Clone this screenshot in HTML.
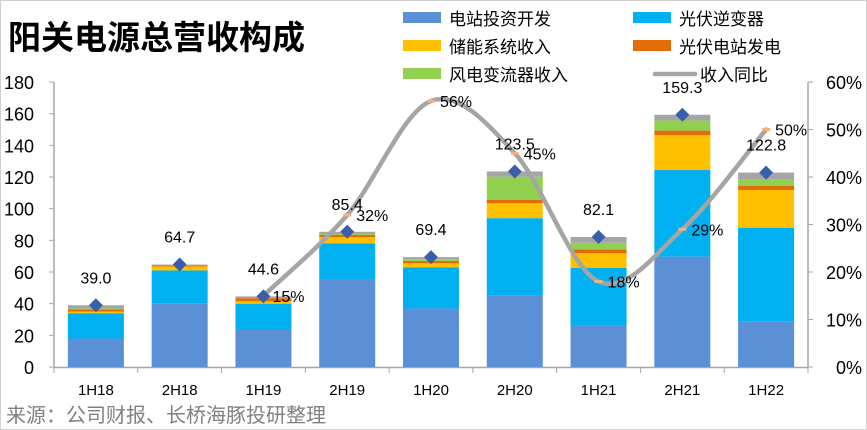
<!DOCTYPE html>
<html><head><meta charset="utf-8"><style>
body{margin:0;background:#fff;}
#wrap{position:relative;width:867px;height:430px;overflow:hidden;font-family:"Liberation Sans","Noto Sans CJK SC",sans-serif;}
svg text{font-family:"Liberation Sans","Noto Sans CJK SC",sans-serif;}
</style></head><body>
<div id="wrap">
<svg id="chart" width="867" height="430" xmlns="http://www.w3.org/2000/svg">
<rect x="0.5" y="0.5" width="866" height="429" fill="#fff" stroke="#d0d0d0"/>
<text x="8" y="49" font-size="33" font-weight="bold" fill="#000">阳关电源总营收构成</text>
<text x="6" y="422" font-size="20" fill="#808080">来源：公司财报、长桥海豚投研整理</text>
<g id="legend"></g>
<g id="axes"></g><g id="bars"></g><g id="line"></g><g id="labels"></g>
</svg>
</div>
<script>
const categories=["1H18","2H18","1H19","2H19","1H20","2H20","1H21","2H21","1H22"];
const stationDev=[18,40,24,55,37,45,26.5,69.7,28.6];
const pvInverter=[16,21,16,23,26,49,36.2,54.7,59.4];
const storage=[1,2.5,1.5,4,2.5,9.4,9.1,22.1,23.8];
const pvStation=[1.5,0.7,2,1.5,1.5,2.1,2.5,2.8,2.5];
const windConv=[0.5,0,0,0.5,1,14.7,4.2,6.4,4.4];
const totals=[39.0,64.7,44.6,85.4,69.4,123.5,82.1,159.3,122.8];
const growth=[null,null,15,32,56,45,18,29,50];
const leftTicks=[0,20,40,60,80,100,120,140,160,180];
const rightTicks=[0,10,20,30,40,50,60];
const seriesNames=["电站投资开发","光伏逆变器","储能系统收入","光伏电站发电","风电变流器收入"];
const colors=["#5B8FD6","#00B0F0","#FFC000","#E36C09","#92D050","#A5A5A5"];

const NS="http://www.w3.org/2000/svg";
const x0=54,x1=808,y0=367,yTop=82;
const step=(x1-x0)/categories.length, bw=56;
const yL=v=>y0-(v/180)*(y0-yTop);
const yR=p=>y0-(p/60)*(y0-yTop);
const xc=i=>x0+step*(i+0.5);
function mk(tag,attrs,parent,txt){const e=document.createElementNS(NS,tag);for(const k in attrs)e.setAttribute(k,attrs[k]);if(txt!==undefined)e.textContent=txt;document.getElementById(parent).appendChild(e);return e;}

let e;
e=mk("line",{x1:x0,y1:yTop,x2:x0,y2:y0,stroke:"#a6a6a6","stroke-width":1.5},"axes");

e=mk("line",{x1:x1,y1:yTop,x2:x1,y2:y0,stroke:"#a6a6a6","stroke-width":1.5},"axes");

e=mk("line",{x1:x0,y1:y0+0.5,x2:x1,y2:y0+0.5,stroke:"#a6a6a6","stroke-width":1.5},"axes");

leftTicks.forEach(t=>{
  e=mk("line",{x1:x0-5,y1:yL(t),x2:x0,y2:yL(t),stroke:"#a6a6a6"},"axes");
  
  e=mk("text",{x:34,y:yL(t)+7,"font-size":18,"text-anchor":"end",fill:"#000"},"axes",String(t));
  
});
rightTicks.forEach(t=>{
  e=mk("line",{x1:x1,y1:yR(t),x2:x1+5,y2:yR(t),stroke:"#a6a6a6"},"axes");
  
  e=mk("text",{x:862,y:yR(t)+7,"font-size":18,"text-anchor":"end",fill:"#000"},"axes",t+"%");
  
});
for(let i=0;i<=categories.length;i++){
  e=mk("line",{x1:x0+step*i,y1:y0,x2:x0+step*i,y2:y0+6,stroke:"#a6a6a6"},"axes");
  
}
categories.forEach((c,i)=>{
  e=mk("text",{x:xc(i),y:395,"font-size":15,"text-anchor":"middle",fill:"#000"},"axes",c);
  
});

const series=[stationDev,pvInverter,storage,pvStation,windConv];
categories.forEach((c,i)=>{
  let acc=0;
  series.forEach((s,k)=>{
    const v=s[i]; if(v<=0){return;}
    e=mk("rect",{x:xc(i)-bw/2,y:yL(acc+v),width:bw,height:yL(acc)-yL(acc+v),fill:colors[k]},"bars");
    
    acc+=v;
  });
  if(totals[i]>acc){
    e=mk("rect",{x:xc(i)-bw/2,y:yL(totals[i]),width:bw,height:yL(acc)-yL(totals[i]),fill:colors[5]},"bars");
    
  }
  const ty=yL(totals[i]);
  e=mk("path",{d:`M${xc(i)} ${ty-7}L${xc(i)+7} ${ty}L${xc(i)} ${ty+7}L${xc(i)-7} ${ty}Z`,fill:"#3A5FA8"},"labels");
  
  e=mk("text",{x:xc(i),y:ty-22,"font-size":16,"text-anchor":"middle",fill:"#000"},"labels",totals[i].toFixed(1));
  
});

const pts=[];growth.forEach((g,i)=>{if(g!==null)pts.push([xc(i),yR(g)]);});
let d=`M${pts[0][0]} ${pts[0][1]}`;
for(let i=0;i<pts.length-1;i++){
  const p0=pts[Math.max(0,i-1)],p1=pts[i],p2=pts[i+1],p3=pts[Math.min(pts.length-1,i+2)];
  const c1=[p1[0]+(p2[0]-p0[0])/6,p1[1]+(p2[1]-p0[1])/6];
  const c2=[p2[0]-(p3[0]-p1[0])/6,p2[1]-(p3[1]-p1[1])/6];
  d+=`C${c1[0]} ${c1[1]} ${c2[0]} ${c2[1]} ${p2[0]} ${p2[1]}`;
}
e=mk("path",{d:d,fill:"none",stroke:"#A5A5A5","stroke-width":4.5,"stroke-linecap":"round"},"line");

growth.forEach((g,i)=>{
  if(g===null)return;
  e=mk("rect",{x:xc(i)-4,y:yR(g)-1.5,width:8,height:3,fill:"#F4B183"},"line");
  
  e=mk("text",{x:xc(i)+9,y:yR(g)+6,"font-size":16,fill:"#000"},"labels",g+"%");
  
});

const lpos=[[403,18],[633,18],[403,46],[633,46],[403,74]];
seriesNames.forEach((n,k)=>{
  e=mk("rect",{x:lpos[k][0],y:lpos[k][1]-6,width:38,height:11,fill:colors[k]},"legend");
  
  e=mk("text",{x:lpos[k][0]+46,y:lpos[k][1]+7,"font-size":17,fill:"#000"},"legend",n);
  
});
e=mk("line",{x1:655,y1:74,x2:695,y2:74,stroke:"#A5A5A5","stroke-width":4.5,"stroke-linecap":"round"},"legend");

e=mk("text",{x:700,y:81,"font-size":17,fill:"#000"},"legend","收入同比");

</script>
</body></html>
